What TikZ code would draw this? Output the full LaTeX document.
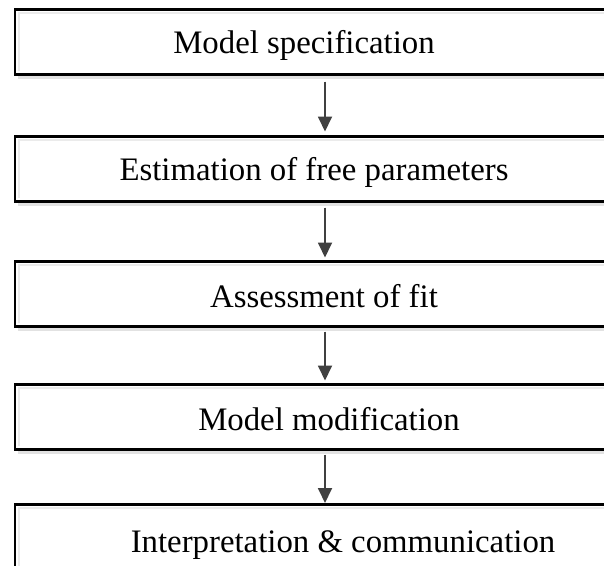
\documentclass[tikz,border=0pt]{standalone}
\usepackage{fontspec}
\setmainfont{Liberation Serif}
\usetikzlibrary{arrows.meta}
\definecolor{arrowgray}{HTML}{404040}
\definecolor{shadowgray}{HTML}{E2E2E2}
\definecolor{bevelgray}{HTML}{EBEBEB}
\begin{document}
\begin{tikzpicture}[x=1pt,y=-1pt,
  stepbox/.style={draw=black, line width=2.4pt, fill=white,
    minimum width=620pt, minimum height=65pt, inner sep=0pt, outer sep=0pt},
  steptext/.style={font=\fontsize{32.8}{39}\selectfont, anchor=base, inner sep=0pt},
  flow/.style={draw=arrowgray, line width=1.8pt,
    -{Triangle[width=14pt,length=15pt]}},
  boxshadow/.style={draw=shadowgray, line width=2.5pt},
  boxbevel/.style={draw=bevelgray, line width=2pt}]
\useasboundingbox (0,0) rectangle (604,565);
\clip (0,0) rectangle (604,565);
\fill[white] (0,0) rectangle (604,565);

% the five stages
\node[stepbox] (b1) at (325,42)  {};
\node[stepbox] (b2) at (325,169) {};
\node[stepbox] (b3) at (325,294) {};
\node[stepbox] (b4) at (325,417) {};
\node[stepbox] (b5) at (325,537) {};

% soft shadow under each box and a faint inner bevel
\foreach \b in {b1,b2,b3,b4,b5} {
  \draw[boxshadow] ([xshift=3pt,yshift=-3pt]\b.south west) -- ([yshift=-3pt]\b.south east);
  \draw[boxbevel] ([xshift=3.5pt,yshift=3.5pt]\b.south west)
    -- ([xshift=3.5pt,yshift=-3.5pt]\b.north west)
    -- ([yshift=-3.5pt]\b.north east);
}

% stage labels
\node[steptext] (t1) at (304,53)  {Model specification};
\node[steptext] (t2) at (314,180) {Estimation of free parameters};
\node[steptext] (t3) at (324,307) {Assessment of fit};
\node[steptext] (t4) at (329,430) {Model modification};
\node[steptext] (t5) at (343,552) {Interpretation \& communication};

% arrows between consecutive stages
\draw[flow] ([yshift=-7pt]b1.south) -- ([yshift=5pt]b2.north);
\draw[flow] ([yshift=-6pt]b2.south) -- ([yshift=4pt]b3.north);
\draw[flow] ([yshift=-5pt]b3.south) -- ([yshift=4pt]b4.north);
\draw[flow] ([yshift=-5pt]b4.south) -- ([yshift=1.5pt]b5.north);
\end{tikzpicture}
\end{document}
